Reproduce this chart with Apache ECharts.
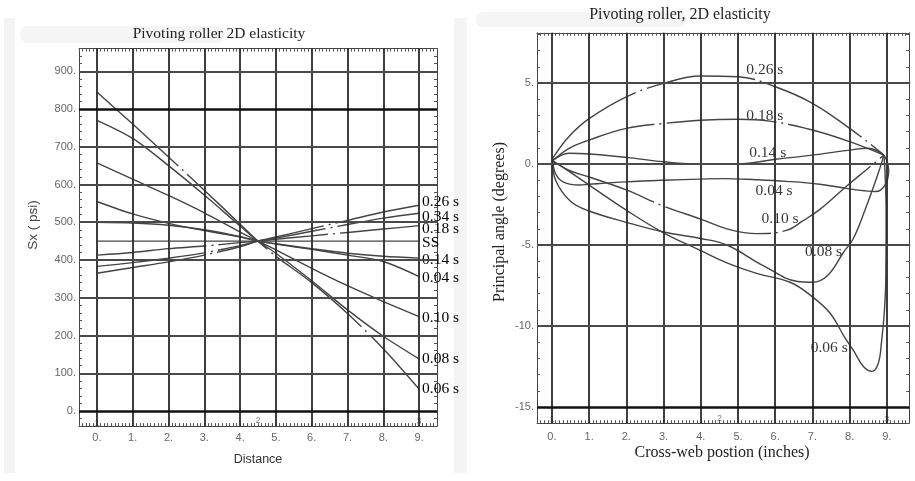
<!DOCTYPE html>
<html>
<head>
<meta charset="utf-8">
<script src="https://cdn.jsdelivr.net/npm/echarts@6/dist/echarts.min.js"></script>
<style>
html, body { margin: 0; padding: 0; background: #fff; }
#chart { width: 915px; height: 481px; }
</style>
</head>
<body>
<div id="chart"></div>
<script>
// left panel: Sx (psi) against distance, one value per distX position
var distX = [0, 1, 2, 3, 4, 4.5, 5, 6, 7, 8, 9];
var sx026 = [365, 380, 395, 413, 435, 450, 461, 483, 505, 527, 545];
var sx034 = [383, 393, 405, 419, 438, 450, 458, 476, 494, 511, 524];
var sx018 = [413, 420, 430, 437, 446, 450, 455, 464, 473, 482, 491];
var sxSS  = [450, 450, 450, 450, 450, 450, 450, 450, 450, 450, 450];
var sx014 = [500, 498, 492, 480, 462, 450, 443, 430, 418, 410, 405];
var sx004 = [555, 522, 497, 478, 461, 450, 442, 428, 413, 396, 356];
var sx010 = [657, 614, 571, 525, 474, 450, 427, 378, 332, 290, 250];
var sx008 = [770, 722, 650, 572, 490, 450, 418, 345, 268, 198, 138];
var sx006 = [845, 760, 673, 585, 495, 450, 410, 340, 258, 165, 58];
var leftNames = ['0.26 s', '0.34 s', '0.18 s', 'SS', '0.14 s', '0.04 s', '0.10 s', '0.08 s', '0.06 s'];
var leftValues = [sx026, sx034, sx018, sxSS, sx014, sx004, sx010, sx008, sx006];
var leftLabelShift = [-3, 4, 3, 2, 2, 1, 1, 0, 0];
var leftDashed = [true, true, true, false, false, false, false, false, true];

// right panel: principal angle (degrees) against cross-web position, [x, y]
var ang026 = [[0.02, 0.2], [0.05, 0.45], [0.46, 1.7], [1, 2.8], [2, 4.15], [3, 4.98], [4, 5.43], [5, 5.39], [6, 4.77], [7, 3.75], [8, 2.2], [8.7, 0.97], [8.92, 0.55]];
var ang018 = [[0.02, 0.2], [0.46, 0.97], [1, 1.48], [2, 2.2], [3, 2.5], [4, 2.7], [5, 2.76], [5.85, 2.65], [7, 2.1], [8, 1.38], [8.92, 0.55]];
var ang014 = [[0.02, 0.2], [0.46, 0.66], [1, 0.62], [2, 0.41], [3, 0.14], [4, 0], [5, 0], [6, 0.29], [7, 0.55], [8, 0.86], [8.5, 0.97], [8.92, 0.55]];
var ang004 = [[0.02, 0.2], [0.1, -0.6], [0.3, -1.1], [0.75, -1.3], [1, -1.25], [2, -1.1], [3, -1.0], [4, -0.93], [4.6, -0.9], [5.5, -0.97], [6.3, -1.07], [7.2, -1.25], [7.9, -1.5], [8.4, -1.65], [8.7, -1.7], [8.95, -1.3], [9.05, -0.4], [9.0, 0.2], [8.92, 0.55]];
var ang010 = [[0.02, 0.2], [0.47, -0.4], [1, -0.8], [2, -1.6], [3, -2.6], [4, -3.4], [4.7, -4.0], [5.5, -4.3], [6.3, -4.1], [6.75, -3.5], [7.2, -2.8], [7.9, -1.4], [8.45, -0.35], [8.92, 0.55]];
var ang008 = [[0.02, 0.2], [0.1, -1.0], [0.5, -2.3], [1, -2.9], [2, -3.6], [3, -4.2], [4, -4.6], [4.7, -5.0], [5.7, -6.3], [6.6, -7.25], [7.0, -7.3], [7.4, -6.9], [7.85, -5.4], [8.1, -4.6], [8.45, -2.6], [8.77, -0.55], [8.92, 0.55]];
var ang006 = [[0.02, 0.2], [0.2, -0.05], [1, -1.3], [2, -2.85], [3, -4.25], [4, -5.35], [4.7, -6.1], [5.5, -6.75], [6.4, -7.3], [7, -8.2], [7.47, -9.2], [7.88, -10.75], [8.1, -11.5], [8.37, -12.5], [8.6, -12.8], [8.77, -12.3], [8.86, -10.9], [8.93, -9.2], [8.97, -7.2], [8.98, -3], [8.95, -0.5], [8.92, 0.55]];
var rightNames = ['0.26 s', '0.18 s', '0.14 s', '0.04 s', '0.10 s', '0.08 s', '0.06 s'];
var rightValues = [ang026, ang018, ang014, ang004, ang010, ang008, ang006];
var rightDashed = [true, true, false, false, true, false, false];
var rightLabels = [[5.72, 5.8, '0.26 s'], [5.72, 2.96, '0.18 s'], [5.8, 0.68, '0.14 s'], [5.97, -1.67, '0.04 s'], [6.13, -3.4, '0.10 s'], [7.3, -5.45, '0.08 s'], [7.45, -11.35, '0.06 s']];

// grid lines and the little curve markers along the bottom
var gridXL = [0, 1, 2, 3, 4, 5, 6, 7, 8, 9];
var gridYL = [0, 100, 200, 300, 400, 500, 600, 700, 800, 900];
var gridYR = [-15, -10, -5, 0, 5];
var markLeft = [[0, -32, '1'], [4.5, -24, '2'], [9, -29, '3']];
var markRight = [[0, -15.8, '1'], [4.5, -15.7, '2'], [9, -15.8, '3']];

var serif = '"Liberation Serif", "Times New Roman", serif';
var sans = '"Liberation Sans", Arial, sans-serif';
var lineColor = '#444';
var dashDot = [110, 5, 2, 5];

function intLabel(v) {
    return Math.abs(v - Math.round(v)) < 1e-6 ? Math.round(v) + '.' : '';
}

function xAxisDef(grid, min, max, pos) {
    return {
        gridIndex: grid, type: 'value', min: min, max: max, interval: 0.1, position: pos,
        axisLine: { show: true, onZero: false, lineStyle: { color: '#444', width: 1 } },
        axisTick: { show: true, inside: true, length: 3, lineStyle: { color: '#555' } },
        axisLabel: { show: pos === 'bottom', formatter: intLabel, margin: grid === 0 ? 6 : 8, color: '#666', fontFamily: sans, fontSize: 11 },
        splitLine: { show: false }
    };
}

function yAxisDef(grid, min, max, step, pos, fmt) {
    return {
        gridIndex: grid, type: 'value', min: min, max: max, interval: step, position: pos,
        axisLine: { show: true, onZero: false, lineStyle: { color: '#444', width: 1 } },
        axisTick: { show: true, inside: true, length: 3, lineStyle: { color: '#555' } },
        axisLabel: { show: pos === 'left', formatter: fmt, margin: 3, color: '#666', fontFamily: sans, fontSize: 11 },
        splitLine: { show: false }
    };
}

function gridMarks(xs, ys, heavy) {
    var out = [];
    xs.forEach(function (v) {
        out.push({ xAxis: v, lineStyle: { color: '#2a2a2a', width: 1.8, type: 'solid' } });
    });
    ys.forEach(function (v) {
        var strong = heavy.indexOf(v) >= 0;
        out.push({ yAxis: v, lineStyle: { color: strong ? '#111' : '#4a4a4a', width: strong ? 2.6 : 1.8, type: 'solid' } });
    });
    return out;
}

var series = [];

leftNames.forEach(function (name, i) {
    var s = {
        name: name, type: 'line', xAxisIndex: 0, yAxisIndex: 0,
        data: distX.map(function (x, k) { return [x, leftValues[i][k]]; }),
        smooth: 0.3, symbol: 'none',
        lineStyle: { color: lineColor, width: 1.4, type: leftDashed[i] ? dashDot : 'solid' },
        endLabel: {
            show: true, formatter: function (p) { return p.seriesName; }, distance: 3,
            fontFamily: serif, fontSize: 15.5, color: '#000', offset: [0, leftLabelShift[i]]
        }
    };
    if (name === 'SS') {
        s.markLine = {
            silent: true, symbol: ['none', 'none'], label: { show: false }, animation: false,
            data: gridMarks(gridXL, gridYL, [0, 800])
        };
    }
    series.push(s);
});

rightNames.forEach(function (name, i) {
    var s = {
        name: 'r' + name, type: 'line', xAxisIndex: 2, yAxisIndex: 2,
        data: rightValues[i], smooth: 0.4, symbol: 'none',
        lineStyle: { color: lineColor, width: 1.4, type: rightDashed[i] ? dashDot : 'solid' }
    };
    if (name === '0.14 s') {
        s.markLine = {
            silent: true, symbol: ['none', 'none'], label: { show: false }, animation: false,
            data: gridMarks(gridXL, gridYR, [-15])
        };
    }
    series.push(s);
});

series.push({
    type: 'scatter', xAxisIndex: 2, yAxisIndex: 2, symbolSize: 0, data: rightLabels,
    label: { show: true, position: 'inside', formatter: function (p) { return p.data[2]; }, fontFamily: serif, fontSize: 15.5, color: '#000' }
});
series.push({
    type: 'scatter', xAxisIndex: 0, yAxisIndex: 0, symbolSize: 0, data: markLeft,
    label: { show: true, position: 'inside', formatter: function (p) { return p.data[2]; }, fontFamily: sans, fontSize: 9, color: '#666' }
});
series.push({
    type: 'scatter', xAxisIndex: 2, yAxisIndex: 2, symbolSize: 0, data: markRight,
    label: { show: true, position: 'inside', formatter: function (p) { return p.data[2]; }, fontFamily: sans, fontSize: 9, color: '#666' }
});

var chart = echarts.init(document.getElementById('chart'));
chart.setOption({
    animation: false,
    backgroundColor: '#fff',
    grid: [
        { left: 79, top: 48.6, width: 358, height: 377.5, show: false },
        { left: 537, top: 32.8, width: 372.2, height: 390.4, show: false }
    ],
    xAxis: [
        xAxisDef(0, -0.5, 9.5, 'bottom'),
        xAxisDef(0, -0.5, 9.5, 'top'),
        xAxisDef(1, -0.4, 9.6, 'bottom'),
        xAxisDef(1, -0.4, 9.6, 'top')
    ],
    yAxis: [
        yAxisDef(0, -40, 960, 20, 'left', function (v) { return Math.round(v) % 100 === 0 ? Math.round(v) + '.' : ''; }),
        yAxisDef(0, -40, 960, 20, 'right', null),
        yAxisDef(1, -16, 8.1, 1, 'left', function (v) { return Math.round(v) % 5 === 0 ? Math.round(v) + '.' : ''; }),
        yAxisDef(1, -16, 8.1, 1, 'right', null)
    ],
    graphic: [
        { type: 'rect', z: -10, shape: { x: 4, y: 18, width: 11, height: 455 }, style: { fill: '#f4f4f4' } },
        { type: 'rect', z: -10, shape: { x: 454, y: 18, width: 13, height: 455 }, style: { fill: '#f4f4f4' } },
        { type: 'rect', z: -10, shape: { x: 20, y: 26, width: 205, height: 17, r: 8 }, style: { fill: '#f5f5f5' } },
        { type: 'rect', z: -10, shape: { x: 476, y: 12, width: 210, height: 15, r: 7 }, style: { fill: '#f5f5f5' } },
        { type: 'text', x: 219, y: 34, style: { text: 'Pivoting roller 2D elasticity', font: '15.5px ' + serif, fill: '#222', align: 'center', verticalAlign: 'middle' } },
        { type: 'text', x: 680, y: 15, style: { text: 'Pivoting roller, 2D elasticity', font: '16px ' + serif, fill: '#222', align: 'center', verticalAlign: 'middle' } },
        { type: 'text', x: 33, y: 225, rotation: Math.PI / 2, style: { text: 'Sx ( psi)', font: '13.5px ' + sans, fill: '#444', align: 'center', verticalAlign: 'middle' } },
        { type: 'text', x: 258, y: 460, style: { text: 'Distance', font: '12.5px ' + sans, fill: '#333', align: 'center', verticalAlign: 'middle' } },
        { type: 'text', x: 500, y: 222, rotation: Math.PI / 2, style: { text: 'Principal angle (degrees)', font: '16px ' + serif, fill: '#222', align: 'center', verticalAlign: 'middle' } },
        { type: 'text', x: 722, y: 453, style: { text: 'Cross-web postion (inches)', font: '16px ' + serif, fill: '#222', align: 'center', verticalAlign: 'middle' } }
    ],
    series: series
});
</script>
</body>
</html>
